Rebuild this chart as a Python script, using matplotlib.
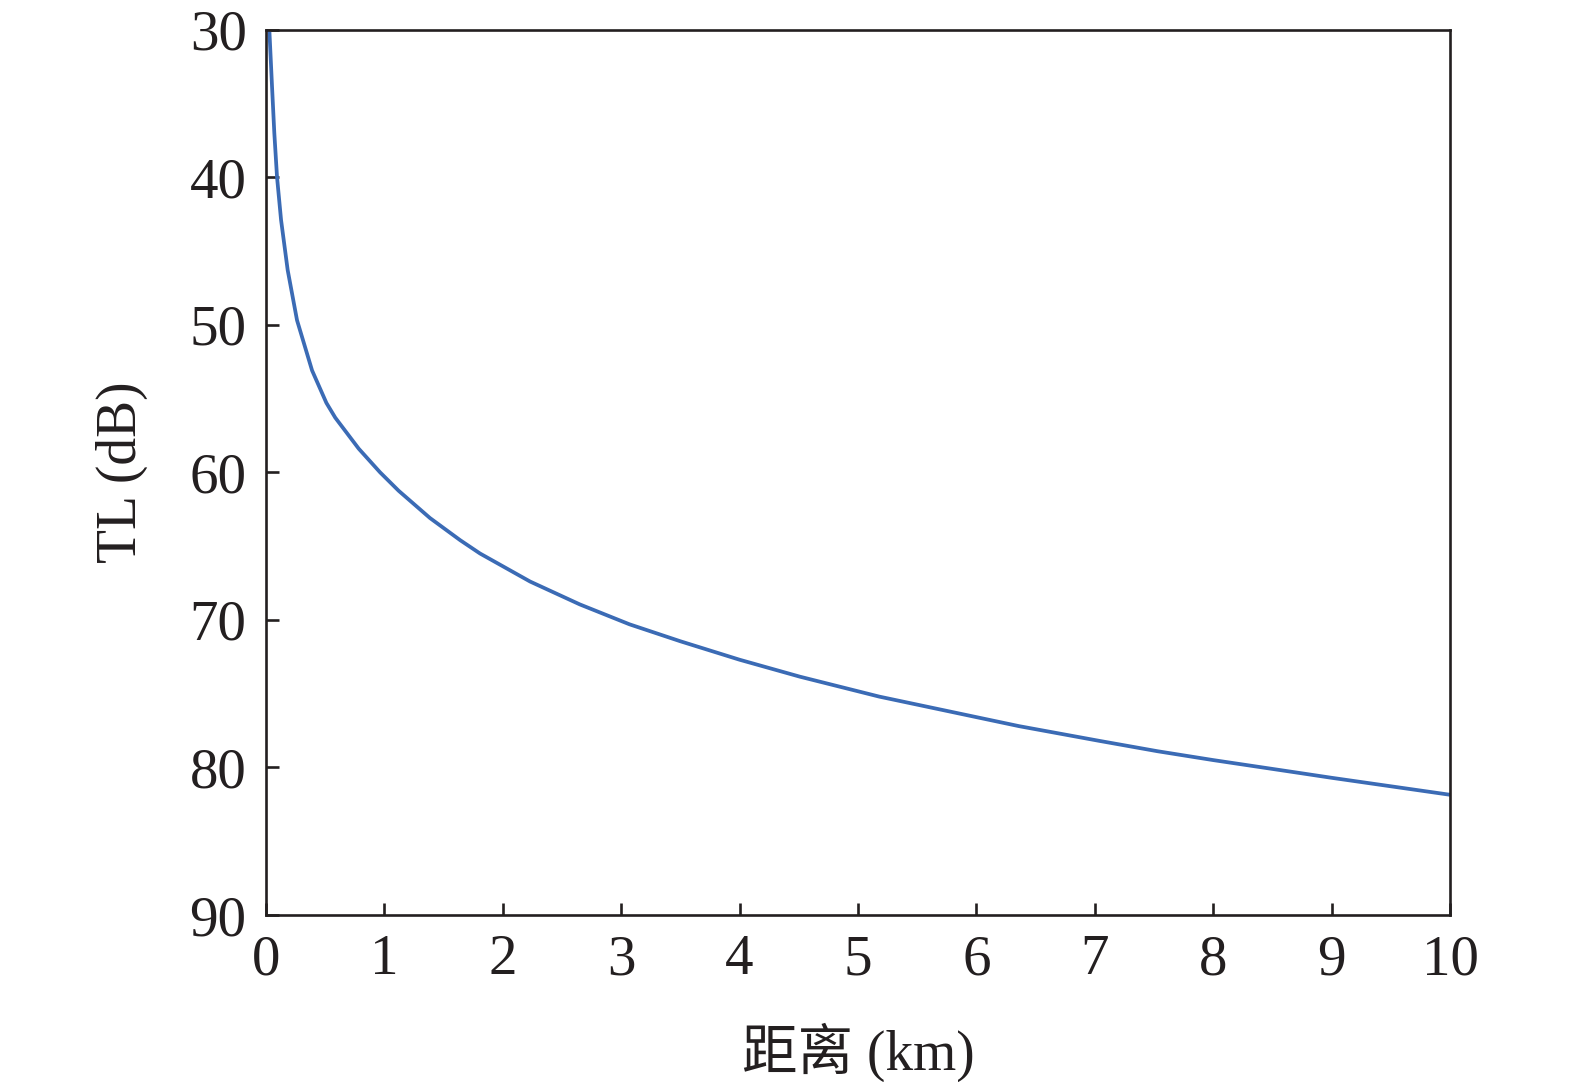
"""
Transmission loss vs. range — single curve, inverted TL axis.
"""

import matplotlib
matplotlib.use('Agg')
import matplotlib.pyplot as plt

# values
distance_km = [0.028, 0.051, 0.070, 0.093, 0.127, 0.183, 0.262, 0.389,
               0.51, 0.585, 0.783, 0.963, 1.12, 1.385, 1.64, 1.807,
               2.23, 2.65, 3.07, 3.50, 4.00, 4.51, 5.18, 6.36, 7.04,
               7.53, 8.0, 8.71, 9.0, 10.0]
tl_db = [30.0, 33.9, 37.0, 40.0, 42.9, 46.3, 49.7, 53.1,
         55.3, 56.3, 58.4, 60.0, 61.25, 63.1, 64.6, 65.5,
         67.4, 68.95, 70.3, 71.45, 72.7, 73.85, 75.2, 77.2, 78.2,
         78.9, 79.5, 80.35, 80.7, 81.85]

x_ticks = list(range(0, 11))
y_ticks = [30, 40, 50, 60, 70, 80, 90]

FONT = ['Liberation Serif', 'Noto Sans CJK SC']
TEXT_COLOR = '#231f20'
LINE_COLOR = '#3b6bb5'

plt.rcParams['font.family'] = FONT

fig = plt.figure(figsize=(15.75, 10.82), dpi=100)
ax = fig.add_axes([0.1689, 0.1543, 0.7517, 0.8184])

ax.plot(distance_km, tl_db, color=LINE_COLOR, lw=2.7,
        solid_joinstyle='round', solid_capstyle='butt')

ax.set_xlim(0, 10)
ax.set_ylim(90, 30)
ax.set_xticks(x_ticks)
ax.set_yticks(y_ticks)

for s in ax.spines.values():
    s.set_linewidth(1.9)
    s.set_color(TEXT_COLOR)

ax.tick_params(axis='both', direction='in', length=9, width=1.9,
               color=TEXT_COLOR, labelcolor=TEXT_COLOR, labelsize=41)
ax.tick_params(axis='x', pad=14)
ax.tick_params(axis='y', pad=14)

ax.set_xlabel('距离 (km)', fontsize=40, color=TEXT_COLOR, labelpad=26)
ax.set_ylabel('TL (dB)', fontsize=40, color=TEXT_COLOR, labelpad=30)

fig.savefig('out.png', dpi=100, facecolor='white')
plt.close(fig)
